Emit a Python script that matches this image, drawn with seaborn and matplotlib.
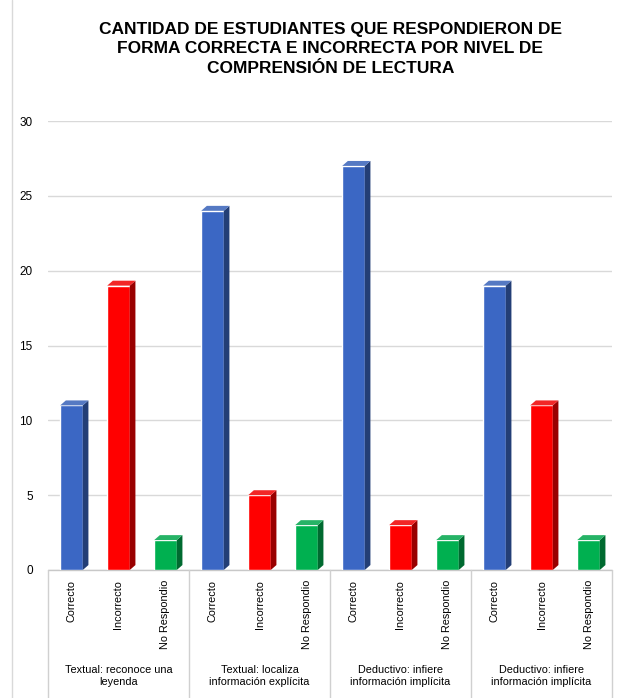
import numpy as np
import pandas as pd
import matplotlib
matplotlib.use('Agg')
import matplotlib.pyplot as plt
import matplotlib.colors as mcolors
from matplotlib.patches import Polygon
from matplotlib.lines import Line2D
import seaborn as sns

niveles = ['Textual: reconoce una\nleyenda',
           'Textual: localiza\ninformación explícita',
           'Deductivo: infiere\ninformación implícita',
           'Deductivo: infiere\ninformación implícita ']
respuestas = ['Correcto', 'Incorrecto', 'No Respondio']
correcto = [11, 24, 27, 19]
incorrecto = [19, 5, 3, 11]
no_respondio = [2, 3, 2, 2]
colores = ['#3b67c4', '#ff0000', '#00b050']

df = pd.DataFrame({
    'nivel': niveles * 3,
    'respuesta': np.repeat(respuestas, len(niveles)),
    'cantidad': correcto + incorrecto + no_respondio,
})

sns.set_style('white')
plt.rcParams['font.family'] = ['Liberation Sans', 'DejaVu Sans']
plt.rcParams['text.color'] = 'black'
plt.rcParams['ytick.color'] = 'black'

fig = plt.figure(figsize=(6.4, 6.98), dpi=100)
ax = fig.add_axes([48 / 640, 1 - 570 / 698, (612 - 48) / 640, (570 - 121) / 698])

sns.barplot(data=df, x='nivel', y='cantidad', hue='respuesta', order=niveles,
            hue_order=respuestas, palette=colores, width=1.0, gap=0.52,
            saturation=1, legend=False, ax=ax, zorder=3)

ax.set_ylim(0, 30)
ax.set_xlim(-0.5, len(niveles) - 0.5)
ax.set_yticks(range(0, 31, 5))
ax.yaxis.grid(True, color='#d9d9d9', lw=1)
ax.set_axisbelow(True)
for s in ax.spines.values():
    s.set_visible(False)
ax.tick_params(axis='y', length=0, labelsize=8.5, pad=11, labelcolor='black')
ax.set_xticks([])
ax.set_xlabel('')
ax.set_ylabel('')

# caras laterales para efecto 3D
dx, dy = 0.04, 0.33
for p in list(ax.patches):
    x, w, h = p.get_x(), p.get_width(), p.get_height()
    if h == 0:
        continue
    c = np.array(mcolors.to_rgb(p.get_facecolor()))
    side = Polygon([(x + w, 0), (x + w + dx, dy), (x + w + dx, h + dy), (x + w, h)],
                   closed=True, fc=c * 0.6, ec='none', zorder=3)
    top = Polygon([(x, h), (x + dx, h + dy), (x + w + dx, h + dy), (x + w, h)],
                  closed=True, fc=np.clip(c * 0.8 + 0.15, 0, 1), ec='none', zorder=3)
    ax.add_patch(side)
    ax.add_patch(top)
    ax.text(x + w / 2, -0.022, respuestas[int(round((x + w / 2 - round(x + w / 2)) / 0.333)) + 1],
            transform=ax.get_xaxis_transform(), rotation=90, ha='center', va='top',
            fontsize=7.8)

# eje x y separadores de categorias
trans = ax.get_xaxis_transform()
ax.add_line(Line2D([-0.5, len(niveles) - 0.5], [0, 0], transform=trans,
                   color='#c8c8c8', lw=1, clip_on=False))
for b in np.arange(-0.5, len(niveles), 1.0):
    ax.add_line(Line2D([b, b], [0, -0.3], transform=trans, color='#d0d0d0',
                       lw=1, clip_on=False))
for i, n in enumerate(niveles):
    ax.text(i, -0.236, n.strip(), transform=trans, ha='center', va='center',
            fontsize=7.8, linespacing=1.35)

fig.text(0.516, 0.93, 'CANTIDAD DE ESTUDIANTES QUE RESPONDIERON DE\n'
         'FORMA CORRECTA E INCORRECTA POR NIVEL DE\nCOMPRENSIÓN DE LECTURA',
         ha='center', va='center', fontsize=12.5, fontweight='bold', linespacing=1.4,
         color='black',
         family=['Liberation Sans Narrow', 'Liberation Sans', 'DejaVu Sans'])

fig.add_artist(Line2D([12 / 640, 12 / 640], [0, 1], color='#d9d9d9', lw=1))

fig.savefig('out.png', dpi=100)
